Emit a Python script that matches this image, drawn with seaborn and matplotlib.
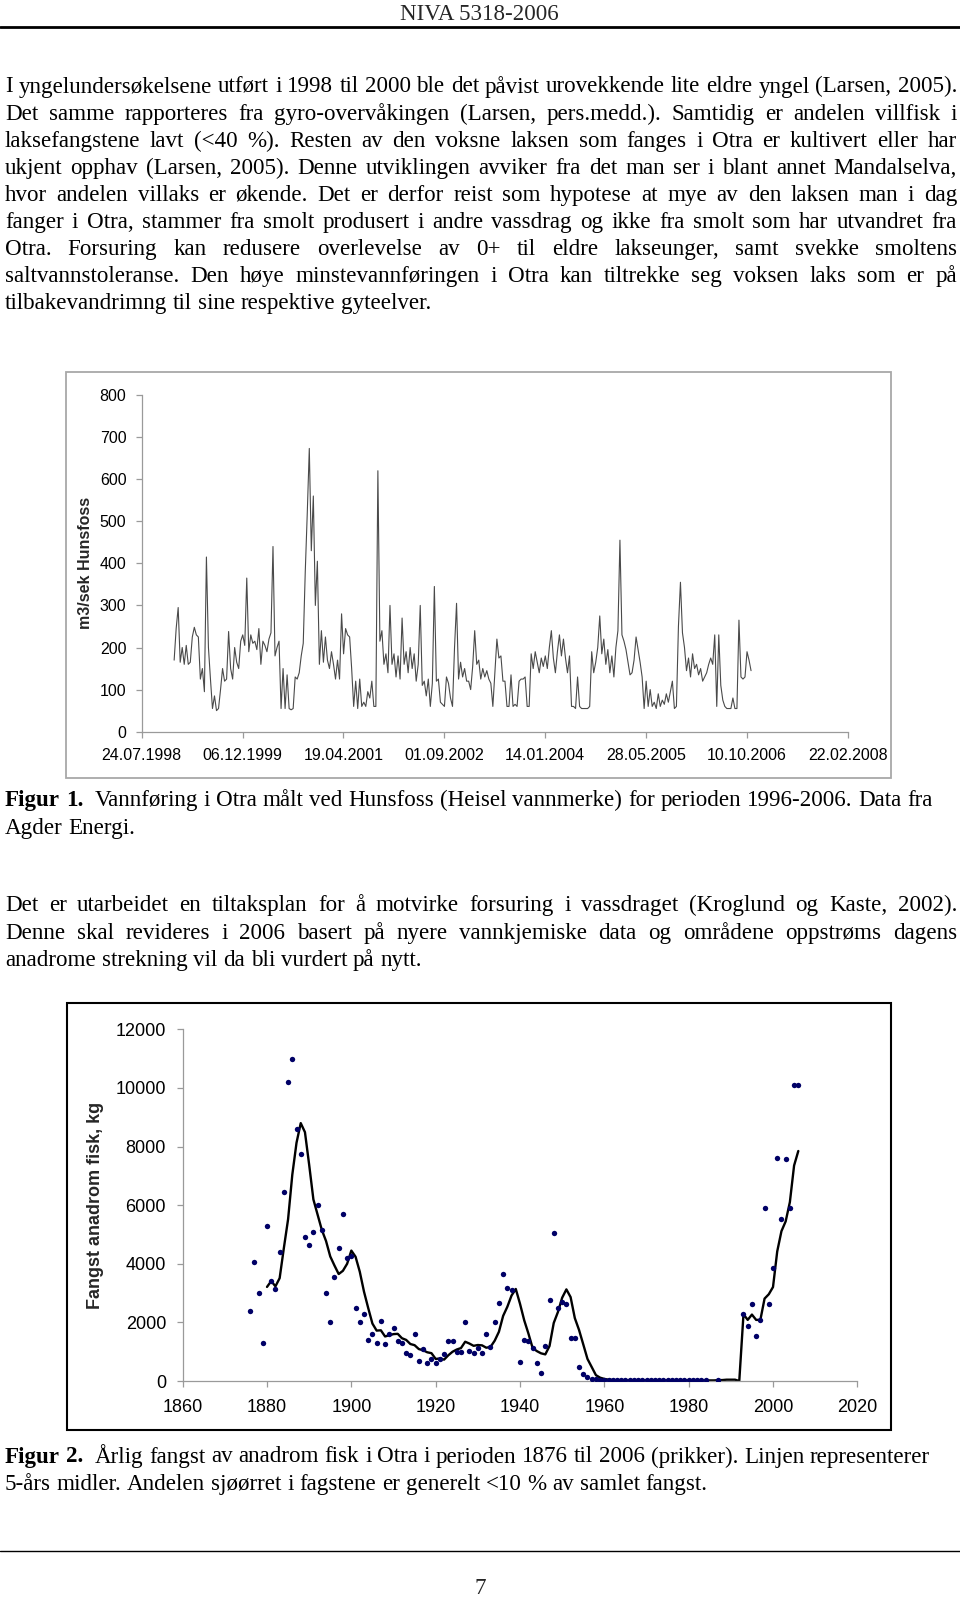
import matplotlib
matplotlib.use('Agg')
import numpy as np
import pandas as pd
import matplotlib.pyplot as plt
import seaborn as sns
from matplotlib.lines import Line2D
from matplotlib.patches import Rectangle

# ---------------- data ----------------
# Figur 1: vannføring Hunsfoss, lest av grafen (ca. hver 10. dag fra 01.01.1999)
flow_start = '1999-01-01'
flow = [
    170, 245, 295, 165, 200, 160, 205, 160, 165, 225,
    248, 230, 225, 125, 150, 95, 415, 200, 125, 55,
    85, 50, 55, 100, 150, 120, 125, 238, 150, 125,
    200, 165, 150, 215, 230, 205, 365, 190, 230, 210,
    215, 195, 245, 160, 215, 205, 190, 220, 235, 440,
    180, 200, 215, 55, 150, 55, 135, 55, 52, 55,
    130, 125, 140, 180, 210, 380, 520, 673, 430, 560,
    300, 405, 160, 240, 165, 225, 170, 150, 190, 160,
    125, 170, 125, 280, 185, 245, 230, 225, 150, 60,
    120, 55, 125, 60, 70, 60, 95, 80, 120, 60,
    60, 620, 215, 240, 160, 185, 140, 300, 160, 185,
    130, 180, 125, 270, 160, 190, 140, 200, 150, 185,
    120, 160, 300, 110, 120, 85, 125, 60, 115, 345,
    120, 125, 70, 65, 60, 130, 115, 80, 60, 200,
    305, 125, 165, 130, 150, 120, 120, 100, 155, 240,
    160, 170, 125, 150, 130, 145, 125, 115, 60, 140,
    220, 175, 180, 120, 120, 60, 60, 135, 60, 65,
    60, 120, 125, 125, 130, 60, 60, 185, 150, 190,
    165, 140, 175, 155, 180, 150, 200, 240, 175, 140,
    190, 230, 180, 220, 175, 140, 180, 60, 60, 55,
    130, 60, 55, 55, 55, 55, 60, 190, 140, 165,
    200, 275, 185, 220, 160, 195, 140, 180, 130, 200,
    240, 455, 230, 215, 195, 165, 135, 140, 170, 225,
    195, 165, 130, 55, 120, 60, 100, 60, 70, 55,
    90, 60, 75, 65, 90, 70, 95, 120, 55, 60,
    250, 355, 235, 200, 145, 175, 130, 185, 150, 160,
    135, 150, 120, 130, 140, 160, 175, 160, 230, 60,
    230, 110, 75, 60, 55, 55, 55, 80, 55, 55,
    265, 130, 125, 130, 190, 170, 145,
]
flow_ticks = ['24.07.1998', '06.12.1999', '19.04.2001', '01.09.2002',
              '14.01.2004', '28.05.2005', '10.10.2006', '22.02.2008']
flow_yticks = [0, 100, 200, 300, 400, 500, 600, 700, 800]

# Figur 2: årlig fangst (kg)
catch_year = (list(range(1876, 1939)) + list(range(1940, 1985)) + [1987]
              + list(range(1993, 2007)))
catch_kg = [
    2400, 4050, 3000, 1300, 5300, 3400, 3150, 4400, 6450, 10200,   # 1876-85
    11000, 8600, 7750, 4900, 4630, 5100, 6000, 5150, 3000, 2000,   # 1886-95
    3550, 4550, 5700, 4200, 4250, 2500, 2000, 2300, 1400, 1600,    # 1896-1905
    1300, 2050, 1250, 1600, 1800, 1350, 1300, 960, 900, 1600,      # 1906-15
    690, 1100, 610, 750, 620, 750, 920, 1350, 1350, 1000,          # 1916-25
    1000, 2000, 1040, 960, 1140, 940, 1600, 1170, 2030, 2660,      # 1926-35
    3650, 3160, 3090,                                              # 1936-38
    640, 1390, 1350, 1110, 610, 260, 1210, 2780, 5040, 2490,       # 1940-49
    2690, 2630, 1460, 1460, 470, 230, 150, 80, 70, 35,             # 1950-59
    20, 20, 20, 20, 20, 20, 20, 20, 20, 20,                        # 1960-69
    20, 20, 20, 20, 20, 20, 20, 20, 20, 20,                        # 1970-79
    20, 20, 20, 20, 20,                                            # 1980-84
    45,                                                            # 1987
    2280, 1890, 2630, 1540, 2080, 5920, 2630, 3860, 7620, 5530,    # 1993-2002
    7590, 5920, 10100, 10100,                                      # 2003-06
]
catch_xticks = [1860, 1880, 1900, 1920, 1940, 1960, 1980, 2000, 2020]
catch_yticks = [0, 2000, 4000, 6000, 8000, 10000, 12000]

# tekst på siden
header = 'NIVA 5318-2006'
para1 = [
    'I yngelundersøkelsene utført i 1998 til 2000 ble det påvist urovekkende lite eldre yngel (Larsen, 2005).',
    'Det samme rapporteres fra gyro-overvåkingen (Larsen, pers.medd.). Samtidig er andelen villfisk i',
    'laksefangstene lavt (<40 %). Resten av den voksne laksen som fanges i Otra er kultivert eller har',
    'ukjent opphav (Larsen, 2005). Denne utviklingen avviker fra det man ser i blant annet Mandalselva,',
    'hvor andelen villaks er økende. Det er derfor reist som hypotese at mye av den laksen man i dag',
    'fanger i Otra, stammer fra smolt produsert i andre vassdrag og ikke fra smolt som har utvandret fra',
    'Otra. Forsuring kan redusere overlevelse av 0+ til eldre lakseunger, samt svekke smoltens',
    'saltvannstoleranse. Den høye minstevannføringen i Otra kan tiltrekke seg voksen laks som er på',
    'tilbakevandrimng til sine respektive gyteelver.',
]
caption1 = [
    'Figur 1. Vannføring i Otra målt ved Hunsfoss (Heisel vannmerke) for perioden 1996-2006. Data fra',
    'Agder Energi.',
]
para2 = [
    'Det er utarbeidet en tiltaksplan for å motvirke forsuring i vassdraget (Kroglund og Kaste, 2002).',
    'Denne skal revideres i 2006 basert på nyere vannkjemiske data og områdene oppstrøms dagens',
    'anadrome strekning vil da bli vurdert på nytt.',
]
caption2 = [
    'Figur 2. Årlig fangst av anadrom fisk i Otra i perioden 1876 til 2006 (prikker). Linjen representerer',
    '5-års midler. Andelen sjøørret i fagstene er generelt <10 % av samlet fangst.',
]
page_no = '7'

# ---------------- oppsett ----------------
W, H = 960, 1597
LEFT, RIGHT = 5, 957
BODY = 16.6
SERIF = ['Liberation Serif', 'DejaVu Serif']


def fx(x):
    return x / W


def fy(y):
    return 1 - y / H


sns.set_theme(style='ticks')
plt.rcParams['font.family'] = ['Liberation Sans', 'DejaVu Sans']

fig = plt.figure(figsize=(9.6, 15.97), dpi=100, facecolor='white')
renderer = fig.canvas.get_renderer()


def put_line(text, y, justify=False, bold_words=0, tab=None):
    # legger ut en tekstlinje ord for ord (blokkjustert om ønskelig)
    words = text.split(' ')
    objs = [fig.text(0, fy(y), w, fontsize=BODY, family=SERIF,
                     weight='bold' if k < bold_words else 'normal',
                     va='baseline', ha='left', color='black')
            for k, w in enumerate(words)]
    widths = [t.get_window_extent(renderer).width for t in objs]
    space = 0.25 * BODY * 100 / 72
    pos = []
    x = LEFT
    first = 0
    if tab is not None:
        for k in range(bold_words):
            pos.append(x)
            x += widths[k] + space
        x = tab
        first = bold_words
    rest = widths[first:]
    gap = space
    if justify and len(rest) > 1:
        gap = (RIGHT - x - sum(rest)) / (len(rest) - 1)
    for w in rest:
        pos.append(x)
        x += w + gap
    for t, p in zip(objs, pos):
        t.set_x(fx(p))


# topptekst og linjer
fig.text(fx(479), fy(19.5), header, fontsize=BODY, family=SERIF,
         ha='center', va='baseline')
fig.add_artist(Line2D([0, 1], [fy(27), fy(27)], transform=fig.transFigure,
                      color='black', lw=2))
fig.add_artist(Line2D([0, 1], [fy(1551), fy(1551)], transform=fig.transFigure,
                      color='black', lw=1))
fig.text(fx(480), fy(1594), page_no, fontsize=BODY, family=SERIF,
         ha='center', va='baseline')

step = 27.1
for k, line in enumerate(para1):
    put_line(line, 92.5 + k * step, justify=k < len(para1) - 1)
for k, line in enumerate(caption1):
    put_line(line, 806.5 + k * step, bold_words=2 if k == 0 else 0,
             tab=94.7 if k == 0 else None)
for k, line in enumerate(para2):
    put_line(line, 911.5 + k * step, justify=k < len(para2) - 1)
for k, line in enumerate(caption2):
    put_line(line, 1462.5 + k * step, bold_words=2 if k == 0 else 0,
             tab=94.7 if k == 0 else None)

# rammer rundt figurene
fig.add_artist(Rectangle((fx(66), fy(778)), (891 - 66) / W, (778 - 372) / H,
                         transform=fig.transFigure, fill=False,
                         edgecolor='#a8a8a8', lw=1.3))
fig.add_artist(Rectangle((fx(67), fy(1430)), (891 - 67) / W, (1430 - 1003) / H,
                         transform=fig.transFigure, fill=False,
                         edgecolor='black', lw=1.5))

AXCOL = '#9a9a9a'


def style_axes(ax, size, pad_x, pad_y):
    ax.patch.set_alpha(0)
    ax.spines[['top', 'right']].set_visible(False)
    for s in ['left', 'bottom']:
        ax.spines[s].set_color(AXCOL)
        ax.spines[s].set_linewidth(0.9)
    ax.tick_params(axis='both', direction='out', length=4, width=0.9,
                   color=AXCOL, labelcolor='black', labelsize=size)
    ax.tick_params(axis='x', pad=pad_x)
    ax.tick_params(axis='y', pad=pad_y)
    ax.grid(False)


# ---------------- Figur 1 ----------------
ax1 = fig.add_axes([fx(141.67), fy(731.67), 706 / W, 336.67 / H])
flow_dates = pd.date_range(flow_start, periods=len(flow), freq='10D')
df_flow = pd.DataFrame({'dato': flow_dates, 'q': flow})
sns.lineplot(data=df_flow, x='dato', y='q', ax=ax1, color='#4a4a4a', lw=0.8)
tick_dates = pd.to_datetime(flow_ticks, format='%d.%m.%Y')
ax1.set_xlim(tick_dates[0], tick_dates[-1])
ax1.set_ylim(0, 800)
ax1.set_xticks(tick_dates)
ax1.set_xticklabels(flow_ticks)
ax1.set_yticks(flow_yticks)
ax1.set_xlabel('')
ax1.set_ylabel('m3/sek Hunsfoss', fontsize=11.5, fontweight='bold')
ax1.yaxis.set_label_coords((85 - 141.67) / 706, 0.5)
ax1.yaxis.label.set_va('center')
style_axes(ax1, 11.5, 8, 7)

# ---------------- Figur 2 ----------------
ax2 = fig.add_axes([fx(182.67), fy(1381), 674.67 / W, 351.67 / H])
catch = pd.Series(catch_kg, index=catch_year, dtype=float)
catch_all = catch.reindex(range(catch_year[0], catch_year[-1] + 1))
# 5-års glidende middel (bakover), år uten data i vinduet vises som 0
ma = catch_all.rolling(5, min_periods=1).mean().fillna(0)
ma = ma[ma.index >= catch_year[0] + 4]
df_ma = pd.DataFrame({'aar': ma.index, 'kg': ma.values})
df_catch = pd.DataFrame({'aar': catch_year, 'kg': catch_kg})

sns.lineplot(data=df_ma, x='aar', y='kg', ax=ax2, color='black', lw=1.7)
sns.scatterplot(data=df_catch, x='aar', y='kg', ax=ax2, color='#000066',
                s=15, linewidth=0, zorder=3)
ax2.set_xlim(1860, 2020)
ax2.set_ylim(0, 12000)
ax2.set_xticks(catch_xticks)
ax2.set_yticks(catch_yticks)
ax2.set_xlabel('')
ax2.set_ylabel('Fangst anadrom fisk, kg', fontsize=13, fontweight='bold')
ax2.yaxis.set_label_coords((96 - 182.67) / 674.67, 0.5)
ax2.yaxis.label.set_va('center')
style_axes(ax2, 13, 9, 8)

fig.savefig('out.png', dpi=100, facecolor='white')
